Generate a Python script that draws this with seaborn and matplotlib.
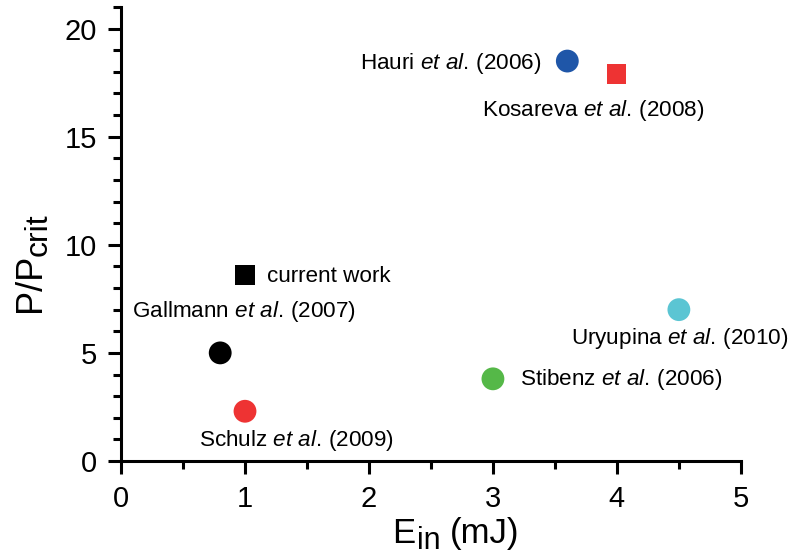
import matplotlib
matplotlib.use("Agg")
import matplotlib.pyplot as plt
import seaborn as sns
import pandas as pd
from matplotlib.ticker import MultipleLocator

# Data
labels = ["current work", "Gallmann", "Schulz", "Stibenz", "Uryupina", "Hauri", "Kosareva"]
texts = ["current work",
         r"Gallmann $\it{et\ al.}\,$(2007)",
         r"Schulz $\it{et\ al.}\,$(2009)",
         r"Stibenz $\it{et\ al.}\,$(2006)",
         r"Uryupina $\it{et\ al.}\,$(2010)",
         r"Hauri $\it{et\ al.}\,$(2006)",
         r"Kosareva $\it{et\ al.}\,$(2008)"]
energy = [1.0, 0.8, 1.0, 3.0, 4.5, 3.6, 4.0]
power_ratio = [8.6, 5.0, 2.3, 3.8, 7.0, 18.5, 17.9]
markers = ["s", "o", "o", "o", "o", "o", "s"]
colors = ["#000000", "#000000", "#ee3333", "#55b848", "#5bc5d3", "#1f56a8", "#ee3333"]

# label placement (offset in points, alignment)
offsets = [(15.8, -0.7), (17.3, 29.5), (37.4, -20.9), (19.4, -0.7),
           (0.7, -20.9), (-18.7, -1.4), (-17.3, -26.6)]
haligns = ["left", "center", "center", "left", "center", "right", "center"]

sns.set_theme(style="ticks")
plt.rcParams["font.family"] = ["Liberation Sans", "DejaVu Sans"]
plt.rcParams["mathtext.fontset"] = "custom"
plt.rcParams["mathtext.rm"] = "Liberation Sans"
plt.rcParams["mathtext.it"] = "Liberation Sans:italic"
plt.rcParams["mathtext.bf"] = "Liberation Sans:bold"

df = pd.DataFrame({"label": labels, "E": energy, "P": power_ratio,
                   "marker": markers, "color": colors})

W, H = 789, 557
fig = plt.figure(figsize=(W / 100, H / 100), dpi=100)
ax = fig.add_axes([0.1534, 0.1724, 0.939 - 0.1534, 0.9874 - 0.1724])

circ = df[df["marker"] == "o"]
sq = df[df["marker"] == "s"]
sns.scatterplot(data=circ, x="E", y="P", hue="label",
                palette=dict(zip(circ["label"], circ["color"])),
                marker="o", s=270, linewidth=0, legend=False, ax=ax, zorder=3)
sns.scatterplot(data=sq, x="E", y="P", hue="label",
                palette=dict(zip(sq["label"], sq["color"])),
                marker="s", s=190, linewidth=0, legend=False, ax=ax, zorder=3)

for t, x, y, off, ha in zip(texts, energy, power_ratio, offsets, haligns):
    ax.annotate(t, xy=(x, y), xytext=off, textcoords="offset points",
                ha=ha, va="center", fontsize=16.2, color="black")

ax.set_xlim(0, 5)
ax.set_ylim(0, 21)
ax.set_xticks([0, 1, 2, 3, 4, 5])
ax.set_yticks([0, 5, 10, 15, 20])
ax.xaxis.set_minor_locator(MultipleLocator(0.5))
ax.yaxis.set_minor_locator(MultipleLocator(1))

sns.despine(ax=ax)
for sp in ["left", "bottom"]:
    ax.spines[sp].set_linewidth(2.2)
    ax.spines[sp].set_color("black")
ax.tick_params(which="major", direction="out", length=9.5, width=2.2,
               labelsize=21, colors="black", pad=8)
ax.tick_params(which="minor", direction="out", length=5.5, width=2.2, colors="black")
ax.set_xlabel("")
ax.set_ylabel("")

# Axis labels with large subscripts, built piece by piece
renderer = fig.canvas.get_renderer()


def build_label(pieces, x0, y0, rotation):
    pos = x0 if rotation == 0 else y0
    for text, size, shift, gap in pieces:
        pos += gap
        if rotation == 0:
            t = fig.text(pos / W, 1 - (y0 + shift) / H, text, fontsize=size,
                         ha="left", va="baseline", color="black")
            bb = t.get_window_extent(renderer)
            pos = bb.x1
        else:
            t = fig.text((x0 + shift) / W, 1 - pos / H, text, fontsize=size,
                         rotation=90, rotation_mode="anchor",
                         ha="left", va="baseline", color="black")
            bb = t.get_window_extent(renderer)
            pos = H - bb.y1


build_label([("E", 25, 0, 0), ("in", 22, 6, 2), ("(mJ)", 25, 0, 9)], 392, 543, 0)
build_label([("P/P", 26, 0, 0), ("crit", 23, 7, 2)], 40, 312, 90)

fig.savefig("out.png", dpi=100)
